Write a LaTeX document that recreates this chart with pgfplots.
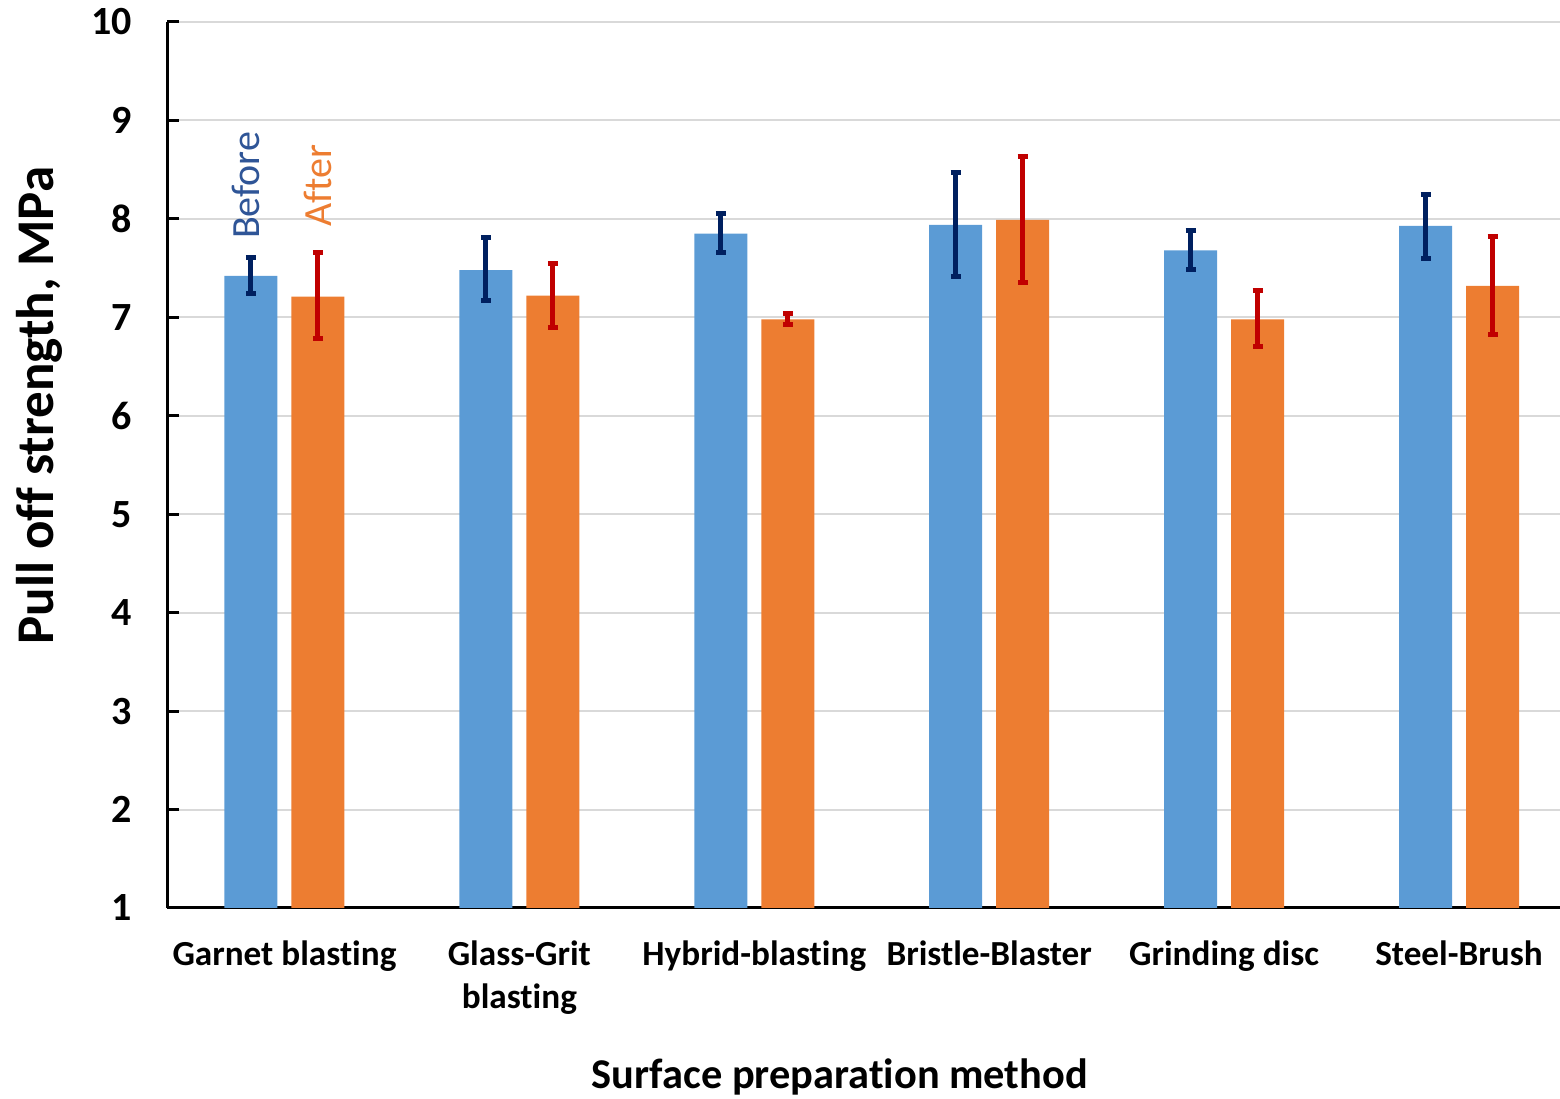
\documentclass[border=0pt]{standalone}
\usepackage{pgfplots}
\pgfplotsset{compat=1.18}
\usepackage{fontspec}
\setmainfont{Carlito}[Ligatures={NoCommon}]
\usetikzlibrary{calc}
\definecolor{barblue}{HTML}{5B9BD5}
\definecolor{barorange}{HTML}{ED7D31}
\definecolor{errblue}{HTML}{002060}
\definecolor{errred}{HTML}{C00000}
\definecolor{gridgray}{HTML}{D9D9D9}
\definecolor{txtblue}{HTML}{2F5597}
\pgfplotsset{layers/mylayers/.define layer set={axis background,axis grid,main,axis ticks,axis lines,axis tick labels,axis descriptions,axis foreground}{}}
\begin{document}
\begin{tikzpicture}
\begin{axis}[name=ax, set layers=mylayers,
  scale only axis, width=696.5pt, height=443pt,
  xmin=-0.5, xmax=5.43, ymin=1, ymax=10,
  ybar=7pt, bar width=26.5pt,
  axis x line*=bottom, axis y line*=left,
  axis line style={black, line width=1.5pt},
  ytick={1,2,...,10},
  xtick={0,1,2,3,4,5},
  xticklabels={Garnet blasting, {Glass-Grit\\blasting}, Hybrid-blasting, Bristle-Blaster, Grinding disc, Steel-Brush},
  xtick style={draw=none},
  ytick style={black, line width=1.5pt},
  tick align=inside, major tick length=6pt,
  ymajorgrids, major grid style={gridgray, line width=1pt},
  /pgf/number format/assume math mode=true,
  yticklabel style={font=\bfseries\fontsize{20}{24}\selectfont, xshift=-14pt},
  xticklabel style={font=\bfseries\fontsize{17.6}{21.5}\selectfont, align=center, yshift=-13pt},
  ylabel={Pull off strength, MPa},
  ylabel style={at={(axis description cs:-0.0919,0.567)}, anchor=center, font=\bfseries\fontsize{26.5}{30}\selectfont},
  xlabel={Surface preparation method},
  xlabel style={at={(axis description cs:0.4831,-0.1907)}, anchor=center, font=\bfseries\fontsize{21.2}{25}\selectfont},
]
\addplot[fill=barblue, draw=none,
  error bars/.cd, y dir=both, y explicit,
  error bar style={errblue, line width=2.5pt},
  error mark options={errblue, line width=2.5pt, mark size=2.5pt, rotate=90}]
  coordinates {
  (0,7.42) += (0,0.19) -= (0,0.18)
  (1,7.48) += (0,0.33) -= (0,0.31)
  (2,7.85) += (0,0.20) -= (0,0.19)
  (3,7.94) += (0,0.53) -= (0,0.53)
  (4,7.68) += (0,0.20) -= (0,0.19)
  (5,7.93) += (0,0.32) -= (0,0.33)
  };
\addplot[fill=barorange, draw=none,
  error bars/.cd, y dir=both, y explicit,
  error bar style={errred, line width=2.5pt},
  error mark options={errred, line width=2.5pt, mark size=2.5pt, rotate=90}]
  coordinates {
  (0,7.21) += (0,0.45) -= (0,0.43)
  (1,7.22) += (0,0.33) -= (0,0.32)
  (2,6.98) += (0,0.06) -= (0,0.05)
  (3,7.99) += (0,0.64) -= (0,0.64)
  (4,6.98) += (0,0.29) -= (0,0.28)
  (5,7.32) += (0,0.50) -= (0,0.49)
  };
\node[rotate=90, text=txtblue, font=\fontsize{20}{24}\selectfont] at (axis cs:-0.162,8.34) {Before};
\node[rotate=90, text=barorange, font=\fontsize{20}{24}\selectfont] at (axis cs:0.1405,8.34) {After};
\end{axis}
\pgfresetboundingbox
\path ($(ax.south west)+(-83.5pt,-95.5pt)$) rectangle ($(ax.north east)+(0pt,11pt)$);
\end{tikzpicture}
\end{document}
